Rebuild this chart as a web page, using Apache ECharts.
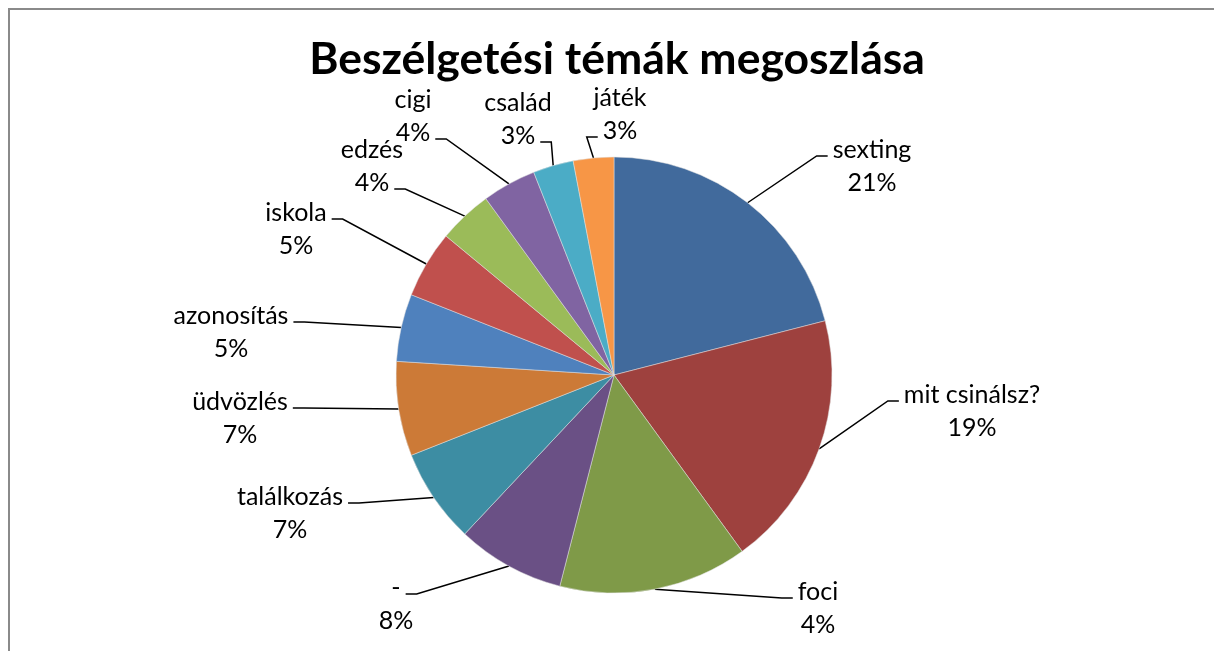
<!DOCTYPE html>
<html>
<head>
<meta charset="utf-8">
<script src="https://cdn.jsdelivr.net/npm/echarts@6/dist/echarts.min.js"></script>
<style>
    html, body { margin: 0; padding: 0; background: #fff; }
    #frame {
        position: absolute; left: 8px; top: 8px; width: 1206px; height: 643px;
        border-left: 2px solid #8a8a8a; border-top: 2px solid #8a8a8a;
    }
    #pieChart { position: absolute; left: 0; top: 0; width: 1214px; height: 651px; }
</style>
</head>
<body>
<div id="frame"></div>
<div id="pieChart"></div>
<script>
    // adatok (óramutató járásával, 12 órától)
    var categories = ['sexting', 'mit csinálsz?', 'foci', '-', 'találkozás', 'üdvözlés',
        'azonosítás', 'iskola', 'edzés', 'cigi', 'család', 'játék'];
    var values = [21, 19, 14, 8, 7, 7, 5, 5, 4, 4, 3, 3];
    // a képen látható százalék feliratok
    var pctLabels = ['21%', '19%', '4%', '8%', '7%', '7%', '5%', '5%', '4%', '4%', '3%', '3%'];

    var colors = ['#416A9C', '#9E413E', '#7F9A48', '#6A5085', '#3D8DA3', '#CC7A37',
        '#4F81BD', '#C0504D', '#9BBB59', '#8064A2', '#4BACC6', '#F79646'];
    var pieCenter = [614, 375];
    // feliratok helye (név sorának közepe, a kör közepéhez képest) és melyik sorhoz fut a vonal
    var labelPos = [[258, -225], [358, 20], [204, 217], [-218, 213], [-324, 122], [-374, 27],
        [-383, -59], [-318, -162], [-242, -225], [-201, -275], [-96, -272], [6, -277]];
    var attachRow = ['n', 'n', 'n', 'n', 'n', 'n', 'n', 'n', 'p', 'p', 'p', 'p'];

    var FONT = 25, LH = 33;
    var ctx = document.createElement('canvas').getContext('2d');
    ctx.font = FONT + 'px Lato';
    function textW(s) { return ctx.measureText(s).width; }

    function placeLabel(params) {
        var i = params.dataIndex;
        var edge = params.labelLinePoints[0];
        var nx = pieCenter[0] + labelPos[i][0];
        var ny = pieCenter[1] + labelPos[i][1];
        var row = attachRow[i] === 'n' ? categories[i] : pctLabels[i];
        var ay = ny + 6 + (attachRow[i] === 'n' ? 0 : LH);
        var w = textW(row);
        var ax, ex;
        if (edge[0] < nx) {
            ax = nx - w / 2 - 5; ex = ax - 11;
        } else {
            ax = nx + w / 2 + 5; ex = ax + 11;
        }
        return {
            x: nx,
            y: ny + 6,
            align: 'center',
            verticalAlign: 'middle',
            labelLinePoints: [[edge[0], edge[1]], [ex, ay], [ax, ay]]
        };
    }

    var chart = echarts.init(document.getElementById('pieChart'));
    chart.setOption({
        animation: false,
        title: {
            text: 'Beszélgetési témák megoszlása',
            left: 612,
            top: 32,
            textAlign: 'center',
            textStyle: { fontFamily: 'Lato', fontWeight: 'bold', fontSize: 44.5, color: '#000' }
        },
        color: colors,
        series: [{
            type: 'pie',
            center: pieCenter,
            radius: 218,
            startAngle: 90,
            clockwise: true,
            avoidLabelOverlap: false,
            labelLayout: placeLabel,
            data: categories.map(function (c, i) { return { name: c, value: values[i] }; }),
            itemStyle: { borderColor: '#e0e0e0', borderWidth: 0.5 },
            label: {
                show: true,
                position: 'outside',
                // rövid üres első sor, hogy a doboz közepe a név sorára essen
                formatter: function (p) {
                    return '{e| }\n{n|' + p.name + '}\n{n|' + pctLabels[p.dataIndex] + '}';
                },
                fontFamily: 'Lato',
                fontSize: FONT,
                lineHeight: LH,
                color: '#000',
                rich: {
                    e: { fontSize: 10, lineHeight: 21, align: 'center' },
                    n: { fontFamily: 'Lato', fontSize: FONT, lineHeight: LH, color: '#000', align: 'center' }
                }
            },
            labelLine: {
                show: true,
                length: 20,
                length2: 12,
                lineStyle: { color: '#000', width: 1.5 }
            }
        }]
    });
</script>
</body>
</html>
